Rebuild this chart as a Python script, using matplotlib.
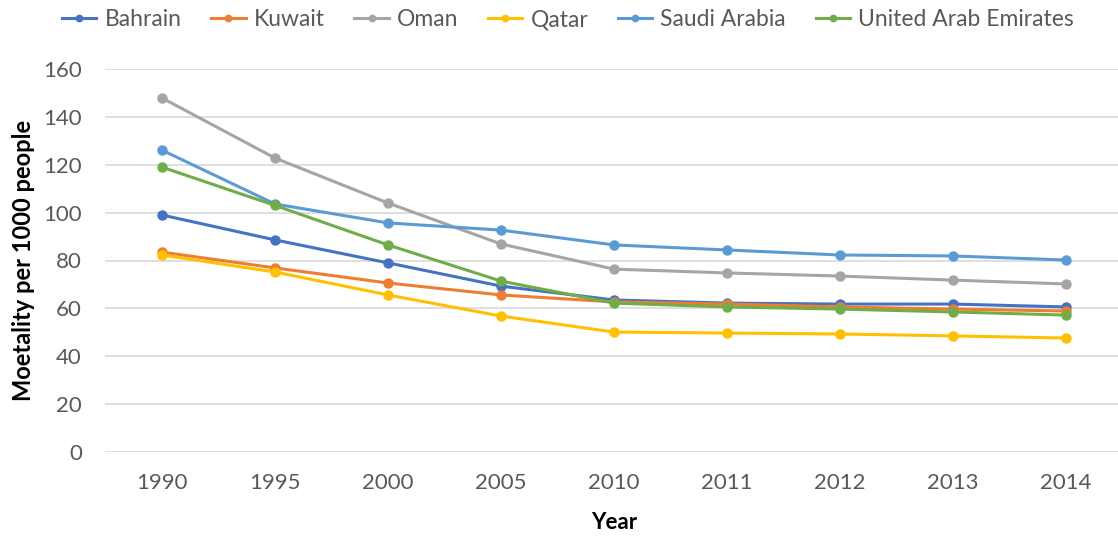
import numpy as np
import matplotlib.pyplot as plt

plt.rcParams['font.family'] = ['Lato', 'DejaVu Sans']

years = ["1990", "1995", "2000", "2005", "2010", "2011", "2012", "2013", "2014"]
bahrain = [99.0, 88.6, 79.0, 69.3, 63.5, 62.2, 61.8, 61.8, 60.6]
kuwait = [83.5, 76.9, 70.6, 65.6, 62.7, 61.8, 60.6, 59.7, 58.9]
oman = [147.9, 122.8, 104.0, 86.9, 76.4, 74.8, 73.5, 71.8, 70.2]
qatar = [82.3, 75.2, 65.6, 56.8, 50.1, 49.7, 49.3, 48.5, 47.6]
saudi = [126.1, 103.6, 95.7, 92.7, 86.5, 84.4, 82.3, 81.9, 80.2]
uae = [119.0, 103.0, 86.5, 71.4, 62.2, 60.6, 59.7, 58.5, 57.2]

series = [("Bahrain", bahrain, "#4472C4"),
          ("Kuwait", kuwait, "#ED7D31"),
          ("Oman", oman, "#A5A5A5"),
          ("Qatar", qatar, "#FFC000"),
          ("Saudi Arabia", saudi, "#5B9BD5"),
          ("United Arab Emirates", uae, "#70AD47")]

fig = plt.figure(figsize=(11.18, 5.38), dpi=100)
ax = fig.add_axes([105.5 / 1118, 86 / 538, 1017 / 1118, 383 / 538])

x = np.arange(len(years))
for name, vals, color in series:
    ax.plot(x, vals, color=color, lw=2.2, marker="o", ms=6.5, label=name)

ax.set_xlim(-0.5, len(years) - 0.5)
ax.set_ylim(0, 160)
ax.set_yticks(range(0, 161, 20))
ax.set_xticks(x)
ax.set_xticklabels(years)
ax.grid(axis="y", color="#D9D9D9", lw=1.2)
ax.set_axisbelow(True)
for s in ax.spines.values():
    s.set_visible(False)
ax.tick_params(length=0, labelsize=16, colors="#595959")
ax.tick_params(axis="x", pad=15)
ax.tick_params(axis="y", pad=17)

ax.set_xlabel("Year", fontsize=16, fontweight="bold", color="black", labelpad=14)
ax.set_ylabel("Moetality per 1000 people", fontsize=17, fontweight="bold", color="black", labelpad=6)

fig.legend(loc="center", bbox_to_anchor=(568 / 1118, 1 - 20 / 538), ncol=6, frameon=False,
           fontsize=16.5, labelcolor="#595959", handlelength=1.5, columnspacing=1.3,
           handletextpad=0.35, markerscale=0.7)

fig.savefig("out.png", dpi=100)
